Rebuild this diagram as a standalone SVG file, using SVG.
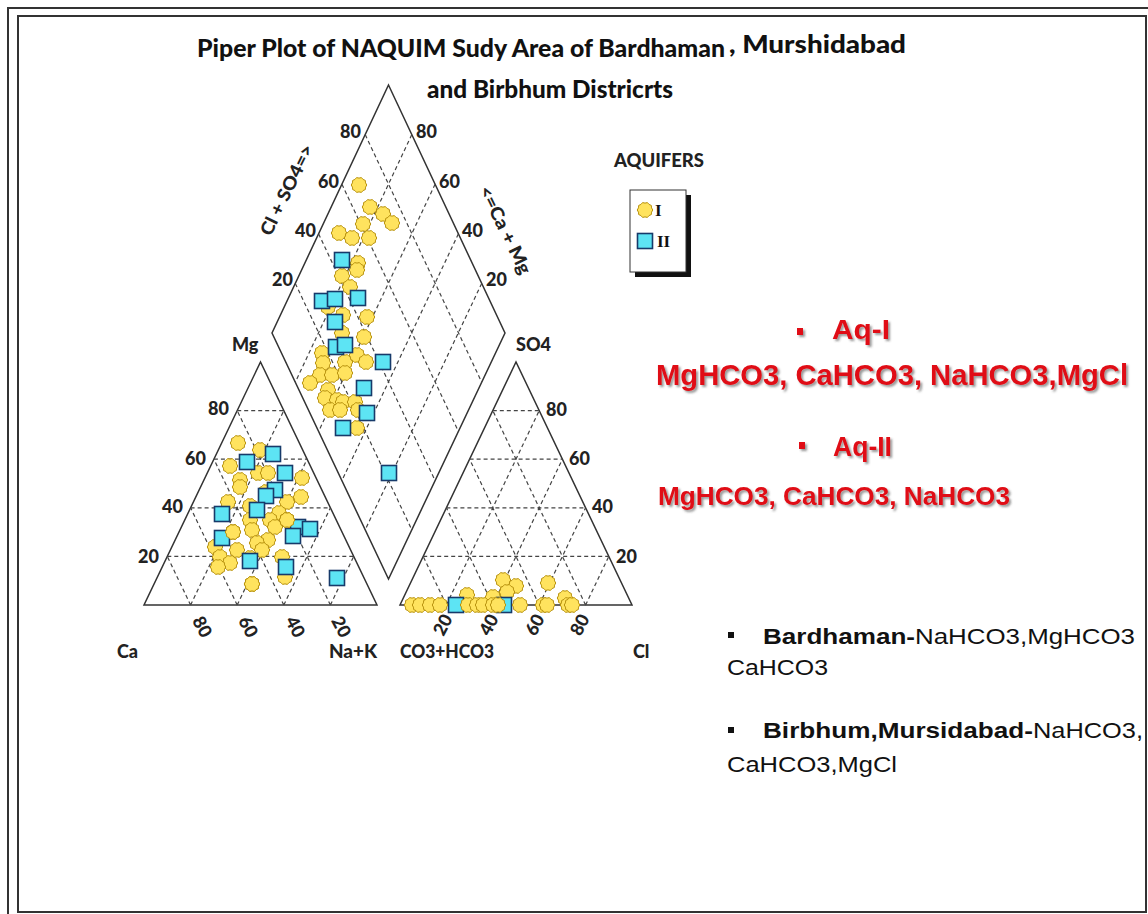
<svg xmlns="http://www.w3.org/2000/svg" width="1148" height="914" viewBox="0 0 1148 914">
<style>
.frame{fill:none;stroke:#333;stroke-width:2}
.edge{fill:none;stroke:#333;stroke-width:1.5}
.grid{fill:none;stroke:#444;stroke-width:1.2;stroke-dasharray:4 3}
.lbl{font-family:Lato,"Liberation Sans",sans-serif;font-weight:900;font-size:18px;fill:#222}
.tick{font-family:Lato,"Liberation Sans",sans-serif;font-weight:900;font-size:18px;fill:#222}
.title{font-family:Lato,"Liberation Sans",sans-serif;font-weight:900;font-size:24px;fill:#111}
.red{font-family:"Liberation Sans",Arial,sans-serif;font-weight:bold;fill:#E00A14}
.blk{font-family:"Liberation Sans",Arial,sans-serif;font-size:22px;fill:#111}
.b{font-weight:bold}
.ci{fill:#FFE35E;stroke:#B8920E;stroke-width:1}
.sq{fill:#5DE4F4;stroke:#173A6A;stroke-width:1.6}
</style>
<defs>
<polygon id="c" class="ci" points="7.8,0 6.56,2.13 6.31,4.58 4.06,5.58 2.41,7.42 0,6.9 -2.41,7.42 -4.06,5.58 -6.31,4.58 -6.56,2.13 -7.8,0 -6.56,-2.13 -6.31,-4.58 -4.06,-5.58 -2.41,-7.42 0,-6.9 2.41,-7.42 4.06,-5.58 6.31,-4.58 6.56,-2.13"/>
<rect id="s" class="sq" x="-7.5" y="-7.5" width="15" height="15"/>
<filter id="sh" x="-5%" y="-20%" width="110%" height="150%">
<feDropShadow dx="2" dy="2" stdDeviation="1" flood-color="#444" flood-opacity="0.55"/>
</filter>
</defs>
<rect width="1148" height="914" fill="#fff"/>
<g id="frame">
<path d="M8,1148 V8 H1148" class="frame" stroke="#555"/>
<rect x="18" y="16" width="1128" height="896" class="frame"/>
</g>
<g id="title">
<text class="title" x="197" y="57" textLength="528" lengthAdjust="spacingAndGlyphs">Piper Plot of NAQUIM Sudy Area of Bardhaman</text>
<text class="title" x="729" y="53" textLength="177" lengthAdjust="spacingAndGlyphs">, Murshidabad</text>
<text class="title" x="427" y="98" font-size="22" textLength="246" lengthAdjust="spacingAndGlyphs">and Birbhum Districrts</text>
</g>
<g id="left-triangle">
<polygon class="edge" points="144,605 377,605 260.5,362"/>
<path class="grid" d="M167.3,556.4H353.7M190.6,507.8H330.4M213.9,459.2H307.1M237.2,410.6H283.8
M190.6,605L283.8,410.6M237.2,605L307.1,459.2M283.8,605L330.4,507.8M330.4,605L353.7,556.4
M190.6,605L167.3,556.4M237.2,605L190.6,507.8M283.8,605L213.9,459.2M330.4,605L237.2,410.6"/>
<text class="tick" x="229" y="415" text-anchor="end">80</text>
<text class="tick" x="206" y="465" text-anchor="end">60</text>
<text class="tick" x="183" y="513" text-anchor="end">40</text>
<text class="tick" x="159" y="563" text-anchor="end">20</text>
<text class="tick" text-anchor="middle" transform="translate(202,627) rotate(62)" dy="6">80</text>
<text class="tick" text-anchor="middle" transform="translate(248,627) rotate(62)" dy="6">60</text>
<text class="tick" text-anchor="middle" transform="translate(295,627) rotate(62)" dy="6">40</text>
<text class="tick" text-anchor="middle" transform="translate(341,627) rotate(62)" dy="6">20</text>
<text class="lbl" x="232" y="351">Mg</text>
<text class="lbl" x="117" y="658">Ca</text>
<text class="lbl" x="329" y="658" textLength="48" lengthAdjust="spacingAndGlyphs">Na+K</text>
</g>
<g id="right-triangle">
<polygon class="edge" points="400,605 632,605 516,362"/>
<path class="grid" d="M423.2,556.4H608.8M446.4,507.8H585.6M469.6,459.2H562.4M492.8,410.6H539.2
M446.4,605L539.2,410.6M492.8,605L562.4,459.2M539.2,605L585.6,507.8M585.6,605L608.8,556.4
M446.4,605L423.2,556.4M492.8,605L446.4,507.8M539.2,605L469.6,459.2M585.6,605L492.8,410.6"/>
<text class="tick" x="546" y="416">80</text>
<text class="tick" x="569" y="465">60</text>
<text class="tick" x="592" y="513">40</text>
<text class="tick" x="616" y="563">20</text>
<text class="tick" text-anchor="middle" transform="translate(443,625) rotate(-62)" dy="6">20</text>
<text class="tick" text-anchor="middle" transform="translate(489,625) rotate(-62)" dy="6">40</text>
<text class="tick" text-anchor="middle" transform="translate(535,625) rotate(-62)" dy="6">60</text>
<text class="tick" text-anchor="middle" transform="translate(580,625) rotate(-62)" dy="6">80</text>
<text class="lbl" x="516" y="351">SO4</text>
<text class="lbl" x="400" y="658" textLength="94" lengthAdjust="spacingAndGlyphs">CO3+HCO3</text>
<text class="lbl" x="633" y="658">Cl</text>
</g>
<g id="diamond">
<polygon class="edge" points="388.5,85 505,333 388.5,579 272,333"/>
<path class="grid" d="M411.8,134.6L295.3,382.2M435.1,184.2L318.6,431.4M458.4,233.8L341.9,480.6M481.7,283.4L365.2,529.8
M365.2,134.6L481.7,382.2M341.9,184.2L458.4,431.4M318.6,233.8L435.1,480.6M295.3,283.4L411.8,529.8"/>
<text class="tick" x="361" y="138" text-anchor="end">80</text>
<text class="tick" x="339" y="188" text-anchor="end">60</text>
<text class="tick" x="316" y="237" text-anchor="end">40</text>
<text class="tick" x="293" y="286" text-anchor="end">20</text>
<text class="tick" x="416" y="138">80</text>
<text class="tick" x="439" y="188">60</text>
<text class="tick" x="462" y="237">40</text>
<text class="tick" x="486" y="286">20</text>
<text class="lbl" text-anchor="middle" transform="translate(287,190) rotate(-64)" dy="6" textLength="99" lengthAdjust="spacingAndGlyphs">Cl + SO4=&gt;</text>
<text class="lbl" text-anchor="middle" transform="translate(505,230) rotate(64)" dy="6" textLength="96" lengthAdjust="spacingAndGlyphs">&lt;=Ca + Mg</text>
</g>
<g id="points-aq1">
<use href="#c" x="359" y="185"/><use href="#c" x="370" y="207"/><use href="#c" x="383" y="214"/><use href="#c" x="392" y="223"/>
<use href="#c" x="363" y="224"/><use href="#c" x="339" y="233"/><use href="#c" x="352" y="238"/><use href="#c" x="369" y="238"/>
<use href="#c" x="358" y="263"/><use href="#c" x="357" y="270"/><use href="#c" x="342" y="276"/><use href="#c" x="350" y="287"/>
<use href="#c" x="328" y="307"/><use href="#c" x="343" y="315"/><use href="#c" x="367" y="317"/><use href="#c" x="342" y="333"/>
<use href="#c" x="364" y="337"/><use href="#c" x="322" y="353"/><use href="#c" x="345" y="362"/><use href="#c" x="357" y="355"/>
<use href="#c" x="366" y="362"/><use href="#c" x="323" y="363"/><use href="#c" x="320" y="375"/><use href="#c" x="332" y="375"/>
<use href="#c" x="345" y="373"/><use href="#c" x="310" y="383"/><use href="#c" x="328" y="390"/><use href="#c" x="325" y="398"/>
<use href="#c" x="337" y="400"/><use href="#c" x="343" y="402"/><use href="#c" x="355" y="402"/><use href="#c" x="330" y="410"/>
<use href="#c" x="340" y="410"/><use href="#c" x="358" y="410"/><use href="#c" x="357" y="428"/>
<use href="#c" x="238" y="443"/><use href="#c" x="260" y="450"/><use href="#c" x="230" y="466"/><use href="#c" x="240" y="480"/>
<use href="#c" x="240" y="487"/><use href="#c" x="258" y="473"/><use href="#c" x="268" y="473"/><use href="#c" x="302" y="478"/>
<use href="#c" x="266" y="492"/><use href="#c" x="301" y="497"/><use href="#c" x="228" y="502"/><use href="#c" x="250" y="506"/>
<use href="#c" x="287" y="502"/><use href="#c" x="279" y="513"/><use href="#c" x="270" y="520"/><use href="#c" x="287" y="520"/>
<use href="#c" x="250" y="520"/><use href="#c" x="252" y="530"/><use href="#c" x="233" y="532"/><use href="#c" x="275" y="527"/>
<use href="#c" x="268" y="540"/><use href="#c" x="257" y="543"/><use href="#c" x="215" y="547"/><use href="#c" x="237" y="550"/>
<use href="#c" x="262" y="550"/><use href="#c" x="220" y="557"/><use href="#c" x="230" y="563"/><use href="#c" x="218" y="567"/>
<use href="#c" x="250" y="558"/><use href="#c" x="282" y="557"/><use href="#c" x="285" y="577"/><use href="#c" x="252" y="584"/>
<use href="#c" x="503" y="580"/><use href="#c" x="516" y="586"/><use href="#c" x="507" y="592"/><use href="#c" x="548" y="583"/>
<use href="#c" x="467" y="595"/><use href="#c" x="493" y="597"/><use href="#c" x="565" y="598"/>
</g>
<g id="points-aq2">
<use href="#s" x="342" y="260"/><use href="#s" x="322" y="301"/><use href="#s" x="335" y="299"/><use href="#s" x="358" y="298"/>
<use href="#s" x="335" y="322"/><use href="#s" x="336" y="347"/><use href="#s" x="345" y="345"/><use href="#s" x="383" y="362"/>
<use href="#s" x="364" y="388"/><use href="#s" x="367" y="413"/><use href="#s" x="343" y="428"/><use href="#s" x="389" y="473"/>
<use href="#s" x="247" y="462"/><use href="#s" x="273" y="454"/><use href="#s" x="285" y="473"/><use href="#s" x="275" y="490"/>
<use href="#s" x="266" y="496"/><use href="#s" x="257" y="510"/><use href="#s" x="222" y="514"/><use href="#s" x="298" y="527"/>
<use href="#s" x="310" y="529"/><use href="#s" x="293" y="536"/><use href="#s" x="222" y="538"/><use href="#s" x="250" y="561"/>
<use href="#s" x="286" y="567"/><use href="#s" x="337" y="578"/>
<use href="#s" x="456" y="605"/><use href="#s" x="504" y="605"/>
</g>
<g id="points-base">
<use href="#c" x="412" y="605"/><use href="#c" x="420" y="605"/><use href="#c" x="430" y="605"/><use href="#c" x="440" y="605"/>
<use href="#c" x="468" y="605"/><use href="#c" x="477" y="605"/><use href="#c" x="483" y="605"/><use href="#c" x="493" y="605"/>
<use href="#c" x="498" y="605"/><use href="#c" x="520" y="605"/><use href="#c" x="543" y="605"/>
<use href="#c" x="547" y="605"/><use href="#c" x="568" y="605"/><use href="#c" x="572" y="605"/>
<use href="#c" x="252" y="584"/><use href="#c" x="287" y="520"/><use href="#c" x="233" y="532"/>
</g>
<g id="legend">
<text class="lbl" x="614" y="167" textLength="90" lengthAdjust="spacingAndGlyphs">AQUIFERS</text>
<rect x="635" y="195" width="56" height="82" fill="#111"/>
<rect x="630" y="190" width="56" height="82" fill="#fff" stroke="#333" stroke-width="1"/>
<use href="#c" x="645" y="210"/>
<text x="655" y="216" font-family="'Liberation Serif',serif" font-weight="bold" font-size="17" fill="#111">I</text>
<use href="#s" x="645" y="241"/>
<text x="657" y="247" font-family="'Liberation Serif',serif" font-weight="bold" font-size="17" fill="#111">II</text>
</g>
<g id="aq-text" filter="url(#sh)">
<rect x="797" y="328" width="6" height="7" fill="#E00A14"/>
<text class="red" x="832" y="339" font-size="28" textLength="58" lengthAdjust="spacingAndGlyphs">Aq-I</text>
<text class="red" x="656" y="385" font-size="30" textLength="472" lengthAdjust="spacingAndGlyphs">MgHCO3, CaHCO3, NaHCO3,MgCl</text>
<rect x="799" y="442" width="6" height="7" fill="#E00A14"/>
<text class="red" x="833" y="456" font-size="28" textLength="59" lengthAdjust="spacingAndGlyphs">Aq-II</text>
<text class="red" x="658" y="505" font-size="25" textLength="352" lengthAdjust="spacingAndGlyphs">MgHCO3, CaHCO3, NaHCO3</text>
</g>
<g id="district-text">
<rect x="728" y="632" width="6" height="6" fill="#111"/>
<text class="blk" x="763" y="644"><tspan class="b" textLength="152" lengthAdjust="spacingAndGlyphs">Bardhaman-</tspan><tspan textLength="220" lengthAdjust="spacingAndGlyphs">NaHCO3,MgHCO3</tspan></text>
<text class="blk" x="727" y="675" textLength="101" lengthAdjust="spacingAndGlyphs">CaHCO3</text>
<rect x="728" y="727" width="6" height="6" fill="#111"/>
<text class="blk" x="763" y="738"><tspan class="b" textLength="270" lengthAdjust="spacingAndGlyphs">Birbhum,Mursidabad-</tspan><tspan textLength="110" lengthAdjust="spacingAndGlyphs">NaHCO3,</tspan></text>
<text class="blk" x="727" y="772" textLength="170" lengthAdjust="spacingAndGlyphs">CaHCO3,MgCl</text>
</g>
</svg>
